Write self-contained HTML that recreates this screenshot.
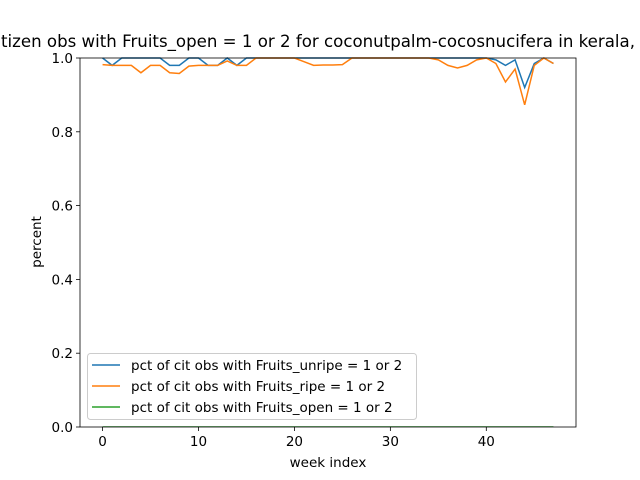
<!DOCTYPE html>
<html><head><meta charset="utf-8"><style>body{margin:0;background:#fff}svg{display:block;font-family:"DejaVu Sans","Liberation Sans",sans-serif}</style></head>
<body>
<svg id="chart" width="640" height="480" viewBox="0 0 640 480">
<rect width="640" height="480" fill="#fff"/>
<text x="1" y="47" font-size="16.5" textLength="634" lengthAdjust="spacingAndGlyphs">tizen obs with Fruits_open = 1 or 2 for coconutpalm-cocosnucifera in kerala,</text>
<g id="plot"></g>
<text x="328" y="467" font-size="13.5" text-anchor="middle">week index</text>
<text transform="translate(41,242) rotate(-90)" font-size="13.5" text-anchor="middle">percent</text>
</svg>
<script>
const weeks = Array.from({length:48},(_,i)=>i);
const unripe = [1,0.98,1,1,1,1,1,0.98,0.98,1,1,0.98,0.98,1,0.98,1,1,1,1,1,1,1,1,1,1,1,1,1,1,1,1,1,1,1,1,1,1,1,1,1,1,0.995,0.98,0.995,0.92,0.985,1,0.985];
const ripe = [0.982,0.98,0.98,0.98,0.96,0.98,0.98,0.96,0.958,0.978,0.98,0.98,0.98,0.992,0.98,0.98,1,1,1,1,1,0.99,0.98,0.981,0.981,0.982,1,1,1,1,1,1,1,1,1,0.995,0.98,0.973,0.98,0.995,1,0.985,0.935,0.97,0.873,0.98,1,0.985];
const openv = new Array(48).fill(0);
const xTicks = [0,10,20,30,40];
const yTicks = [0,0.2,0.4,0.6,0.8,1.0];
const yTickLabels = ["0.0","0.2","0.4","0.6","0.8","1.0"];
const L=80,R=576,T=58,B=427, xmin=-2.35, xmax=49.35;
const sx=v=>L+(v-xmin)/(xmax-xmin)*(R-L);
const sy=v=>B-v*(B-T);
const NS="http://www.w3.org/2000/svg";
const g=document.getElementById('plot');
function mk(tag,attrs,parent){const e=document.createElementNS(NS,tag);for(const k in attrs)e.setAttribute(k,attrs[k]);(parent||g).appendChild(e);return e;}
const clip=mk('clipPath',{id:'cp'});mk('rect',{x:L,y:T-3,width:R-L,height:B-T+3},clip);
const series=[[unripe,'#1f77b4','line-unripe'],[ripe,'#ff7f0e','line-ripe'],[openv,'#2ca02c','line-open']];
series.forEach(([d,c,n])=>{
 const p=mk('polyline',{points:d.map((v,i)=>sx(weeks[i])+','+sy(v)).join(' '),fill:'none',stroke:c,'stroke-width':1.5,'clip-path':'url(#cp)'});
 
 
});
xTicks.forEach(t=>{
 mk('line',{x1:sx(t),x2:sx(t),y1:B,y2:B+4,stroke:'#000','stroke-width':0.8});
 const tx=mk('text',{x:sx(t),y:B+19,'font-size':13.5,'text-anchor':'middle'});tx.textContent=t;
 
 
});
yTicks.forEach((t,i)=>{
 mk('line',{x1:L-4,x2:L,y1:sy(t),y2:sy(t),stroke:'#000','stroke-width':0.8});
 const tx=mk('text',{x:L-7,y:sy(t)+5,'font-size':13.5,'text-anchor':'end'});tx.textContent=yTickLabels[i];
 
 
});
const frame=mk('rect',{x:L,y:T,width:R-L,height:B-T,fill:'none',stroke:'#000','stroke-width':0.8});


const lg=mk('g',{});


mk('rect',{x:87.5,y:353.5,width:329,height:66,rx:3,fill:'#fff','fill-opacity':0.8,stroke:'#ccc'},lg);
const labels=['pct of cit obs with Fruits_unripe = 1 or 2','pct of cit obs with Fruits_ripe = 1 or 2','pct of cit obs with Fruits_open = 1 or 2'];
labels.forEach((s,i)=>{
 const y=365+i*21;
 mk('line',{x1:92,x2:120,y1:y,y2:y,stroke:series[i][1],'stroke-width':1.5},lg);
 const t=mk('text',{x:131,y:y+5,'font-size':13.5},lg);t.textContent=s;
 
 
});
</script>
</body></html>
